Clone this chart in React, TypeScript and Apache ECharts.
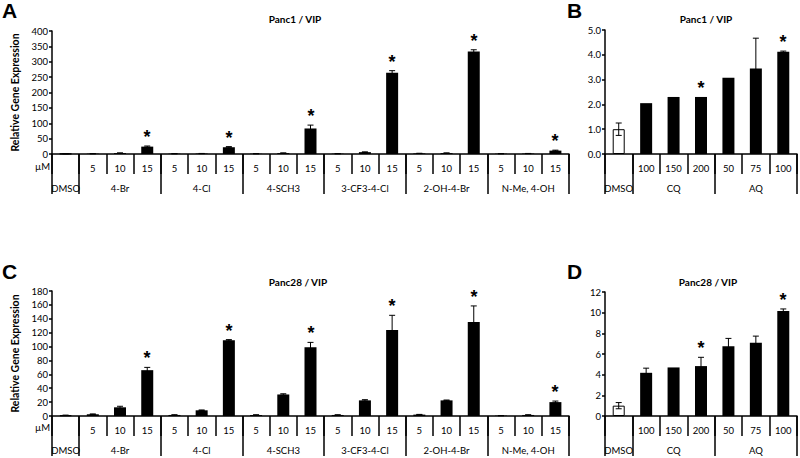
import React, { useEffect, useRef } from 'react';
import * as echarts from 'echarts';

const FONT = 'Lato, "Noto Sans", sans-serif';

// Panel A: Panc1 / VIP (compounds)
const groupsA = ['4-Br', '4-Cl', '4-SCH3', '3-CF3-4-Cl', '2-OH-4-Br', 'N-Me, 4-OH'];
const dosesA = ['5', '10', '15'];
const valuesA = [1, 1, 3, 24, 1, 1.5, 22, 1, 3, 83, 1, 6, 264, 2, 3, 333, 1, 1.5, 11];
const errorsA = [0.5, 0.3, 0.5, 2, 0.3, 0.3, 2, 0.3, 0.5, 11, 0.3, 1, 7, 0.3, 0.5, 6, 0.2, 0.3, 1.5];
const sigA = [0, 0, 0, 1, 0, 0, 1, 0, 0, 1, 0, 0, 1, 0, 0, 1, 0, 0, 1];

// Panel B: Panc1 / VIP (CQ, AQ)
const groupsB = ['CQ', 'AQ'];
const dosesCQ = ['100', '150', '200'];
const dosesAQ = ['50', '75', '100'];
const valuesB = [1.0, 2.05, 2.3, 2.3, 3.07, 3.45, 4.12];
const errorsB = [0.25, 0, 0, 0, 0, 1.22, 0.03];
const sigB = [0, 0, 0, 1, 0, 0, 1];

// Panel C: Panc28 / VIP (compounds)
const valuesC = [1, 2.5, 12.5, 66, 1.5, 8.2, 109, 1.5, 31, 99, 1.5, 22.5, 124, 2, 22.5, 135.5, 0.5, 1.5, 20];
const errorsC = [0.3, 0.5, 1.5, 4, 0.3, 0.5, 1, 0.3, 1, 7, 0.3, 1, 21, 0.3, 0.5, 23, 0.2, 0.3, 1.5];
const sigC = [0, 0, 0, 1, 0, 0, 1, 0, 0, 1, 0, 0, 1, 0, 0, 1, 0, 0, 1];

// Panel D: Panc28 / VIP (CQ, AQ)
const valuesD = [1.0, 4.18, 4.7, 4.83, 6.76, 7.08, 10.16];
const errorsD = [0.3, 0.45, 0, 0.85, 0.75, 0.65, 0.2];
const sigD = [0, 0, 0, 1, 0, 0, 1];

function buildCats(groups: string[], doses: string[][]) {
  const cats: string[] = ['DMSO'];
  const doseLabels: string[] = [''];
  const groupLabels: string[] = ['DMSO'];
  const boundaries: number[] = [0];
  groups.forEach((g, gi) => {
    boundaries.push(cats.length);
    const ds = doses[gi];
    ds.forEach((d, di) => {
      cats.push(g + ' ' + d);
      doseLabels.push(d);
      groupLabels.push(di === Math.floor(ds.length / 2) ? g : '');
    });
  });
  return { cats, doseLabels, groupLabels, boundaries };
}

const catsA = buildCats(groupsA, groupsA.map(() => dosesA));
const catsB = buildCats(groupsB, [dosesCQ, dosesAQ]);

const black = '#000';

function errRender(params: any, api: any) {
  const idx = api.value(0);
  const v = api.value(1);
  const e = api.value(2);
  const s = api.value(3);
  const top = api.coord([idx, v + e]);
  const bot = api.coord([idx, v - e]);
  const children: any[] = [];
  if (e > 0) {
    const st = { stroke: black, lineWidth: 1 };
    children.push({ type: 'line', shape: { x1: top[0], y1: top[1], x2: bot[0], y2: bot[1] }, style: st });
    children.push({ type: 'line', shape: { x1: top[0] - 3, y1: top[1], x2: top[0] + 3, y2: top[1] }, style: st });
    children.push({ type: 'line', shape: { x1: bot[0] - 3, y1: bot[1], x2: bot[0] + 3, y2: bot[1] }, style: st });
  }
  if (s) {
    children.push({
      type: 'text',
      x: Math.round(top[0]),
      y: Math.round(top[1] - 9),
      style: { text: '*', fontSize: 18, fontWeight: 'bold', fontFamily: 'Liberation Sans, Arial, sans-serif', fill: '#000000', align: 'center', verticalAlign: 'middle' },
    });
  }
  return { type: 'group', children };
}

export default function App() {
  const ref = useRef<HTMLDivElement>(null);
  useEffect(() => {
    if (!ref.current) return;
    const chart = echarts.init(ref.current, null, { renderer: 'svg' });

    const panels = [
      { grid: { left: 52, top: 31, width: 517, height: 123 }, c: catsA, values: valuesA, errors: errorsA, sig: sigA, max: 400, interval: 50, fmt: (v: number) => String(v), name: 'Relative Gene Expression' },
      { grid: { left: 605, top: 30, width: 192, height: 124 }, c: catsB, values: valuesB, errors: errorsB, sig: sigB, max: 5, interval: 1, fmt: (v: number) => v.toFixed(1), name: '' },
      { grid: { left: 52, top: 291, width: 517, height: 125 }, c: catsA, values: valuesC, errors: errorsC, sig: sigC, max: 180, interval: 20, fmt: (v: number) => String(v), name: 'Relative Gene Expression' },
      { grid: { left: 605, top: 292, width: 192, height: 124 }, c: catsB, values: valuesD, errors: errorsD, sig: sigD, max: 12, interval: 2, fmt: (v: number) => String(v), name: '' },
    ];

    const grid: any[] = [];
    const xAxis: any[] = [];
    const yAxis: any[] = [];
    const series: any[] = [];
    const lineStyle = { color: black, width: 1.5 };

    panels.forEach((p, i) => {
      grid.push(p.grid);
      const c = p.c;
      xAxis.push({
        type: 'category', gridIndex: i, data: c.cats, position: 'bottom',
        axisLine: { onZero: false, lineStyle },
        axisTick: { show: true, length: 20, interval: 0, lineStyle },
        axisLabel: { interval: 0, margin: 9, fontSize: 9.5, color: black, fontFamily: FONT, formatter: (_v: string, idx: number) => c.doseLabels[idx] },
        splitLine: { show: false },
      });
      xAxis.push({
        type: 'category', gridIndex: i, data: c.cats, position: 'bottom',
        axisLine: { show: false, onZero: false },
        axisTick: { show: true, length: 40, interval: (idx: number) => c.boundaries.includes(idx), lineStyle },
        axisLabel: { interval: 0, margin: 29, fontSize: 9.5, color: black, fontFamily: FONT, formatter: (_v: string, idx: number) => c.groupLabels[idx] },
        splitLine: { show: false },
      });
      yAxis.push({
        type: 'value', gridIndex: i, min: 0, max: p.max, interval: p.interval,
        axisLine: { show: true, onZero: false, lineStyle },
        axisTick: { show: true, length: 3, lineStyle },
        splitLine: { show: false },
        axisLabel: { fontSize: 9.5, color: black, fontFamily: FONT, margin: 4, formatter: p.fmt },
        name: p.name, nameLocation: 'middle', nameGap: 31,
        nameTextStyle: { fontWeight: 'bold', fontSize: 10.5, fontFamily: FONT, color: black },
      });
      series.push({
        type: 'bar', xAxisIndex: 2 * i, yAxisIndex: i, barWidth: 12, silent: true,
        itemStyle: { color: black },
        data: p.values.map((v, k) => k === 0
          ? { value: v, itemStyle: { color: '#fff', borderColor: black, borderWidth: 1 } }
          : { value: v, itemStyle: { color: black } }),
      });
      series.push({
        type: 'custom', xAxisIndex: 2 * i, yAxisIndex: i, silent: true, z: 5,
        itemStyle: { color: black },
        renderItem: errRender,
        encode: { x: 0, y: 1 },
        data: p.values.map((v, k) => [k, v, p.errors[k], p.sig[k]]),
      });
    });

    const txt = (text: string, x: number, y: number, size: number, bold: boolean, align = 'center', family = FONT, vAlign = 'middle') => ({
      type: 'text', x, y,
      style: { text, fontSize: size, fontWeight: bold ? 'bold' : 'normal', fontFamily: family, fill: black, align, verticalAlign: vAlign },
    });
    const LF = 'Liberation Sans, Arial, sans-serif';

    chart.setOption({
      animation: false,
      backgroundColor: '#fff',
      color: [black],
      grid, xAxis, yAxis, series,
      graphic: [
        txt('A', 2, 0, 21, true, 'left', LF, 'top'),
        txt('B', 567, 0, 21, true, 'left', LF, 'top'),
        txt('C', 2, 261, 21, true, 'left', LF, 'top'),
        txt('D', 567, 261, 21, true, 'left', LF, 'top'),
        txt('Panc1 / VIP', 295, 19, 10, true),
        txt('Panc1 / VIP', 706, 19, 10, true),
        txt('Panc28 / VIP', 298, 282, 10, true),
        txt('Panc28 / VIP', 708, 282, 10, true),
        txt('µM', 50, 166, 9.5, false, 'right'),
        txt('µM', 50, 427, 9.5, false, 'right'),
      ],
    });
    return () => chart.dispose();
  }, []);
  return <div ref={ref} style={{ width: 800, height: 458, position: 'absolute', left: 0, top: 0 }} />;
}
